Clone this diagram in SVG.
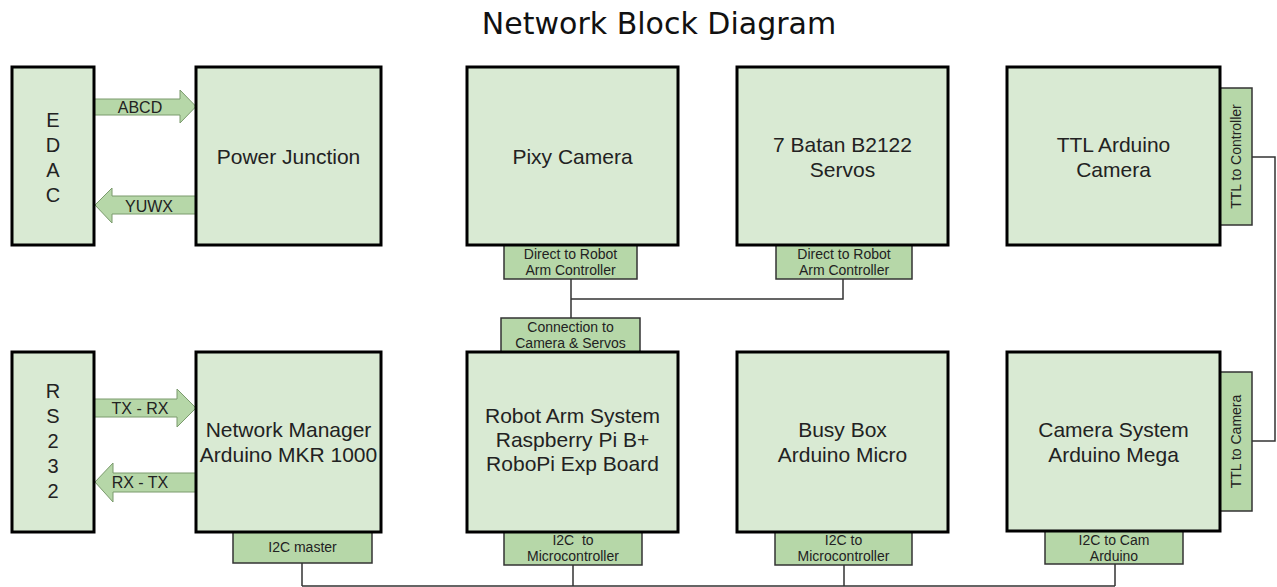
<svg xmlns="http://www.w3.org/2000/svg" width="1277" height="587" viewBox="0 0 1277 587">
<style>
.box{fill:#d9ead3;stroke:#000;stroke-width:3}
.tab{fill:#b6d7a8;stroke:#333;stroke-width:1.5}
.arr{fill:#b6d7a8;stroke:#7a9a6c;stroke-width:1}
.t{font-family:"Liberation Sans",Arial,sans-serif;font-size:21px;fill:#222;text-anchor:middle}
.s{font-family:"Liberation Sans",Arial,sans-serif;font-size:14px;fill:#222;text-anchor:middle}
.a{font-family:"Liberation Sans",Arial,sans-serif;font-size:16px;fill:#222;text-anchor:middle}
.v{font-family:"Liberation Sans",Arial,sans-serif;font-size:20px;fill:#222;text-anchor:middle}
.c{fill:none;stroke:#333;stroke-width:1.5}
</style>
<rect width="1277" height="587" fill="#fff"/>
<text x="659" y="34" font-family="DejaVu Sans, sans-serif" font-size="30" fill="#111" text-anchor="middle">Network Block Diagram</text>

<g id="connectors">
<path class="c" d="M571,279V318M571,299H843V279"/>
<path class="c" d="M1252,157H1275V441H1252"/>
<path class="c" d="M302,563V586M573,565V586M844,565V586M1115,564V586M302,586H1115"/>
<g id="arrow-abcd"><polygon class="arr" points="94,99 180,99 180,90 196,106.5 180,123 180,115 94,115"/><text class="a" x="140" y="113">ABCD</text></g>
<g id="arrow-yuwx"><polygon class="arr" points="196,196 112,196 112,188 95,205 112,223 112,214 196,214"/><text class="a" x="149" y="212">YUWX</text></g>
<g id="arrow-txrx"><polygon class="arr" points="94,399 177,399 177,389 196,408 177,427 177,417 94,417"/><text class="a" x="140" y="414">TX - RX</text></g>
<g id="arrow-rxtx"><polygon class="arr" points="196,473 113,473 113,463 95,482 113,502 113,492 196,492"/><text class="a" x="140" y="488">RX - TX</text></g>
</g>

<g id="edac">
<rect class="box" x="12" y="67" width="82" height="178"/>
<text class="v" x="53" y="127">E</text><text class="v" x="53" y="152">D</text><text class="v" x="53" y="177">A</text><text class="v" x="53" y="202">C</text>
</g>
<g id="power-junction">
<rect class="box" x="196" y="67" width="185" height="178"/>
<text class="t" x="288.5" y="164">Power Junction</text>
</g>
<g id="pixy-camera">
<rect class="tab" x="504" y="245" width="133" height="34"/>
<text class="s" x="570.5" y="259">Direct to Robot</text><text class="s" x="570.5" y="275">Arm Controller</text>
<rect class="box" x="467" y="67" width="211" height="178"/>
<text class="t" x="572.5" y="164">Pixy Camera</text>
</g>
<g id="servos">
<rect class="tab" x="776" y="245" width="136" height="34"/>
<text class="s" x="844" y="259">Direct to Robot</text><text class="s" x="844" y="275">Arm Controller</text>
<rect class="box" x="737" y="67" width="211" height="178"/>
<text class="t" x="842.5" y="152">7 Batan B2122</text><text class="t" x="842.5" y="177">Servos</text>
</g>
<g id="ttl-camera">
<rect class="tab" x="1220" y="88" width="32" height="137"/>
<text class="s" transform="translate(1241,156.5) rotate(-90)" x="0" y="0">TTL to Controller</text>
<rect class="box" x="1007" y="67" width="213" height="178"/>
<text class="t" x="1113.5" y="152">TTL Arduino</text><text class="t" x="1113.5" y="177">Camera</text>
</g>

<g id="rs232">
<rect class="box" x="12" y="352" width="82" height="180"/>
<text class="v" x="53" y="398">R</text><text class="v" x="53" y="423">S</text><text class="v" x="53" y="448">2</text><text class="v" x="53" y="473">3</text><text class="v" x="53" y="498">2</text>
</g>
<g id="network-manager">
<rect class="tab" x="233" y="532" width="139" height="31"/>
<text class="s" x="302.5" y="552">I2C master</text>
<rect class="box" x="196" y="352" width="185" height="180"/>
<text class="t" x="288.5" y="437">Network Manager</text><text class="t" x="288.5" y="462">Arduino MKR 1000</text>
</g>
<g id="robot-arm">
<rect class="tab" x="501" y="318" width="139" height="34"/>
<text class="s" x="570.5" y="332">Connection to</text><text class="s" x="570.5" y="348">Camera &amp; Servos</text>
<rect class="tab" x="504" y="532" width="138" height="33"/>
<text class="s" x="573" y="545" xml:space="preserve">I2C  to</text><text class="s" x="573" y="561">Microcontroller</text>
<rect class="box" x="467" y="352" width="211" height="180"/>
<text class="t" x="572.5" y="423">Robot Arm System</text><text class="t" x="572.5" y="447">Raspberry Pi B+</text><text class="t" x="572.5" y="471">RoboPi Exp Board</text>
</g>
<g id="busy-box">
<rect class="tab" x="775" y="532" width="137" height="33"/>
<text class="s" x="843.5" y="545">I2C to</text><text class="s" x="843.5" y="561">Microcontroller</text>
<rect class="box" x="737" y="352" width="211" height="180"/>
<text class="t" x="842.5" y="437">Busy Box</text><text class="t" x="842.5" y="462">Arduino Micro</text>
</g>
<g id="camera-system">
<rect class="tab" x="1220" y="372" width="32" height="139"/>
<text class="s" transform="translate(1241,441.5) rotate(-90)" x="0" y="0">TTL to Camera</text>
<rect class="tab" x="1045" y="531" width="138" height="33"/>
<text class="s" x="1114" y="545">I2C to Cam</text><text class="s" x="1114" y="561">Arduino</text>
<rect class="box" x="1007" y="352" width="213" height="179"/>
<text class="t" x="1113.5" y="437">Camera System</text><text class="t" x="1113.5" y="462">Arduino Mega</text>
</g>
</svg>
